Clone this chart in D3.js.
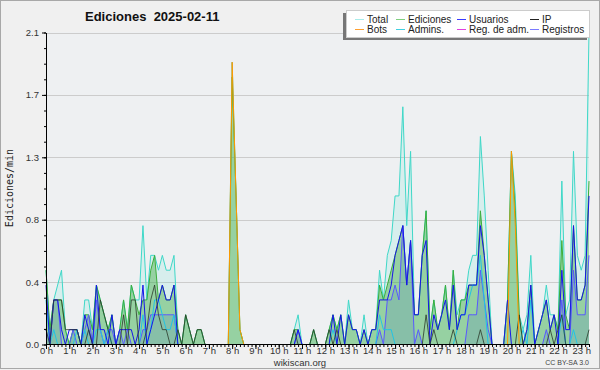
<!DOCTYPE html>
<html>
<head>
<meta charset="utf-8">
<script src="https://cdn.jsdelivr.net/npm/d3@7"></script>
<style>
body { margin: 0; background: #f0f0f0; }
svg { display: block; font-family: "Liberation Sans", Arial, sans-serif; }
</style>
</head>
<body>
<svg id="chart" width="600" height="370"></svg>
<script>
// 10-minute bins, values in edits per minute (6 bins per hour)
const total = [
  .5,.1,.3,.4,.5,.1,   0,.1,.1,0,.3,.3,   .1,.4,.3,.2,.1,.2,   0,.1,.3,.1,.4,.3,
  .3,.8,.3,.6,.6,.5,   .6,.5,.5,.6,.1,0,  .2,.1,0,.1,.1,0,     0,0,0,0,0,0,
  1.9,1.0,.1,0,0,0,    0,0,0,0,0,0,       0,0,0,0,.1,.2,       0,0,0,.1,0,0,
  0,.1,.2,.1,.2,0,     .3,.1,.1,0,.2,0,   .1,.1,.5,.3,.6,.7,   1.0,1.0,1.6,.8,1.3,.2,
  .2,.6,.9,.1,.3,.1,   .2,.4,.1,.5,.2,.3, .3,.5,.6,.6,1.4,1.0, .5,0,0,0,0,.3,
  1.3,1.0,.2,.1,.2,.6, 0,.1,.2,.4,.2,.2,  .1,1.1,.2,.3,1.3,.6, .5,.6,2.1
];
const ediciones = [
  .5,.1,.3,.3,.3,.1,   0,.1,.1,0,.2,.2,   .1,.4,.3,.2,.1,.2,   0,.1,.3,.1,.4,.3,
  .2,.3,.3,.5,.6,.3,   .4,.3,.3,.4,.1,0,  .2,.1,0,.1,.1,0,     0,0,0,0,0,0,
  1.8,1.0,.1,0,0,0,    0,0,0,0,0,0,       0,0,0,0,.1,.1,       0,0,0,.1,0,0,
  0,.1,.2,.1,.2,0,     .2,.1,.1,0,.1,0,   .1,.1,.4,.3,.4,.5,   .6,.7,.8,.4,.7,.2,
  .2,.6,.9,.1,.3,.1,   .2,.4,.1,.5,.1,.3, .3,.4,.4,.4,.9,.6,   .3,0,0,0,0,.3,
  1.3,.9,.2,0,.1,.4,   0,.1,.2,.3,.1,.2,  .1,.7,.2,.1,.8,.3,   .3,.4,1.1
];
const usuarios = [
  .4,0,.3,.3,.1,0,     .1,.1,.1,0,.2,.1,  0,.4,.1,.1,0,.2,     0,.1,.1,.1,.1,0,
  .1,.4,0,.1,.2,.3,    .4,.3,.3,.4,0,0,   0,0,0,0,0,0,         0,0,0,0,0,0,
  0,0,0,0,0,0,         0,0,0,0,0,0,       0,0,0,0,0,.1,        0,0,0,0,0,0,
  0,0,.2,0,.2,0,       .2,.1,.1,0,.1,0,   .1,.1,.3,.3,.3,.4,   .6,.7,.8,.4,.7,.2,
  .2,.6,.7,0,.2,.1,    .2,.3,.1,.4,.1,.2, .2,.4,.4,.4,.8,.6,   .3,0,0,0,0,.3,
  0,0,0,0,.1,.4,       0,.1,.2,.3,.1,.2,  0,.5,.1,.1,.8,.3,    .3,.4,1.0
];
const ip = [
  .1,0,.3,.3,.3,.1,    .1,.1,.1,0,0,.1,   0,0,.3,.2,.1,0,      0,0,.2,0,.3,.3,
  0,0,.1,.3,.4,.2,     .1,.1,0,0,.1,0,    .2,.1,0,.1,.1,0,     0,0,0,0,0,0,
  0,0,0,0,0,0,         0,0,0,0,0,0,       0,0,0,0,.1,0,        0,0,0,.1,0,0,
  0,.1,0,.1,0,0,       0,0,0,0,0,0,       0,0,0,0,0,0,         0,0,0,0,0,0,
  0,0,.2,0,.1,0,       0,0,0,.1,0,0,      0,0,0,0,.1,0,        0,0,0,0,0,0,
  0,0,.2,0,0,0,        0,0,0,0,.1,0,      .1,.2,0,0,0,0,       0,0,.1
];
const bots = [
  0,0,0,0,0,0,         0,0,0,0,0,0,       0,0,0,0,0,0,         0,0,0,0,0,0,
  0,0,0,0,0,0,         0,0,0,0,0,0,       0,0,0,0,0,0,         0,0,0,0,0,0,
  1.9,1.0,.1,0,0,0,    0,0,0,0,0,0,       0,0,0,0,0,0,         0,0,0,0,0,0,
  0,0,0,0,0,0,         0,0,0,0,0,0,       0,0,0,0,0,0,         0,0,0,0,0,0,
  0,0,0,0,0,0,         0,0,0,0,0,0,       0,0,0,0,0,0,         0,0,0,0,0,0,
  1.3,.8,0,0,0,0,      0,0,0,0,0,0,       0,0,0,0,0,0,         0,0,0
];
const admins = [
  .3,0,.1,0,0,0,       0,0,.1,0,.1,0,     0,.1,.1,0,.1,0,      0,0,0,0,0,0,
  0,.2,0,.1,.3,.3,     .2,.1,.1,.2,0,0,   0,0,0,0,0,0,         0,0,0,0,0,0,
  0,0,0,0,0,0,         0,0,0,0,0,0,       0,0,0,0,0,0,         0,0,0,0,0,0,
  0,0,.1,0,0,0,        0,0,0,0,0,0,       0,0,.2,.1,.1,.1,     0,0,0,0,0,0,
  0,0,0,0,0,0,         0,0,0,0,.1,.2,     .2,.3,.4,.4,.6,.3,   0,0,0,0,0,0,
  0,0,0,.1,0,.3,       0,0,0,0,0,0,       0,.2,0,0,.1,0,       0,0,0
];
const regAdm = total.map(() => 0);
const registros = [
  .1,0,.3,.3,0,0,      0,.1,0,0,.1,.2,    0,.3,.1,0,.1,.1,     0,.1,0,.1,0,0,
  0,.1,.1,.2,.2,.2,    .2,.2,.2,.2,0,0,   0,0,0,0,0,0,         0,0,0,0,0,0,
  0,0,0,0,0,0,         0,0,0,0,0,0,       0,0,0,0,0,.1,        0,0,0,0,0,0,
  0,0,0,0,0,0,         0,0,0,0,0,0,       0,0,.1,0,.3,.3,      .4,.3,.8,.4,.7,0,
  .1,0,0,0,0,0,        0,0,0,0,0,0,       0,.2,.2,.2,.5,.3,    .1,0,0,0,0,0,
  0,0,0,0,0,0,         0,0,0,.1,0,0,      0,.3,0,0,.5,.2,      .2,.2,.6
];

const seriesNames = ["Total", "Ediciones", "Usuarios", "IP", "Bots", "Admins.", "Reg. de adm.", "Registros"];
const seriesValues = [total, ediciones, usuarios, ip, bots, admins, regAdm, registros];
const seriesColors = ["#3fd8c8", "#3cae3c", "#1616e8", "#2a3a2a", "#ff9900", "#22c4e4", "#e040e0", "#5858ff"];
const legendColors = ["#a8ecea", "#80d080", "#3a3aff", "#222222", "#ffa030", "#40d0e0", "#e040e0", "#7a7aff"];

const hourLabels = d3.range(24).map(h => h + " h");
const yTickValues = [0, 0.42, 0.84, 1.26, 1.68, 2.1];
const yTickLabels = ["0.0", "0.4", "0.8", "1.3", "1.7", "2.1"];

const svg = d3.select("#chart");

// frame
svg.append("rect")
    .attr("x", 0.5).attr("y", 0.5)
    .attr("width", 599).attr("height", 368)
    .attr("fill", "#f0f0f0")
    .attr("stroke", "#a8a8a8");

const x = d3.scaleLinear().domain([0, total.length - 1]).range([46, 589]);
const y = d3.scaleLinear().domain([0, 2.1]).range([344.5, 32.5]);

// plot background
svg.append("rect")
    .attr("x", 46).attr("y", 32)
    .attr("width", 543).attr("height", 312)
    .attr("fill", "#eef0f2");

// gridlines
svg.append("g")
    .selectAll("line")
    .data(yTickValues.slice(1))
    .join("line")
    .attr("x1", 46).attr("x2", 589)
    .attr("y1", d => Math.round(y(d)) + 0.5)
    .attr("y2", d => Math.round(y(d)) + 0.5)
    .attr("stroke", "#cccccc");

const area = vals => d3.area()
    .x((d, i) => x(i))
    .y0(y(0))
    .y1(d => y(d))(vals);

const line = vals => d3.line()
    .x((d, i) => x(i))
    .y(d => y(d))(vals);

// filled series
svg.append("path").attr("d", area(total)).attr("fill", "rgba(64,224,208,0.13)");
svg.append("path").attr("d", area(ediciones)).attr("fill", "rgba(60,170,60,0.42)");
svg.append("path").attr("d", area(registros)).attr("fill", "rgba(60,100,200,0.16)");

// lines, drawn in this order
const drawOrder = [0, 1, 7, 5, 6, 2, 3, 4];
drawOrder.forEach(k => {
    svg.append("path")
        .attr("d", line(seriesValues[k]))
        .attr("fill", "none")
        .attr("stroke", seriesColors[k])
        .attr("stroke-width", 1)
        .attr("stroke-linejoin", "round")
        .attr("opacity", k === 3 ? 0.8 : 1);
});

// y axis
const yMinor = d3.range(0, 21).map(k => k * 0.105);
svg.append("g")
    .attr("transform", "translate(46,0)")
    .call(d3.axisLeft(y).tickValues(yMinor).tickSize(2).tickFormat("").tickSizeOuter(0))
    .call(g => g.select(".domain").remove());
svg.append("g")
    .attr("transform", "translate(46,0)")
    .call(d3.axisLeft(y).tickValues(yTickValues).tickSize(4).tickPadding(3)
        .tickFormat((d, i) => yTickLabels[i]).tickSizeOuter(0))
    .call(g => g.select(".domain").attr("stroke", "#000"))
    .call(g => g.selectAll("text").attr("font-size", 9.5).attr("fill", "#333")
        .attr("font-family", "Liberation Sans, Arial, sans-serif"));

// x axis
svg.append("g")
    .attr("transform", "translate(0,344)")
    .call(d3.axisBottom(x).tickValues(d3.range(0, total.length)).tickSize(3).tickFormat("").tickSizeOuter(0))
    .call(g => g.select(".domain").remove());
svg.append("g")
    .attr("transform", "translate(0,344)")
    .call(d3.axisBottom(x).tickValues(d3.range(0, 24).map(h => h * 6)).tickSize(5).tickPadding(0)
        .tickFormat((d, i) => hourLabels[i]).tickSizeOuter(0))
    .call(g => g.select(".domain").attr("stroke", "#000"))
    .call(g => g.selectAll("text").attr("y", 3).attr("font-size", 9.5).attr("fill", "#333")
        .attr("font-family", "Liberation Sans, Arial, sans-serif"));

// title and labels
svg.append("text")
    .attr("x", 85).attr("y", 21)
    .attr("font-size", 13).attr("font-weight", "bold")
    .attr("fill", "#111")
    .style("white-space", "pre")
    .text("Ediciones  2025-02-11");

svg.append("text")
    .attr("transform", "translate(13,188) rotate(-90)")
    .attr("text-anchor", "middle")
    .attr("font-family", "DejaVu Sans Mono, monospace")
    .attr("font-size", 10)
    .attr("fill", "#222")
    .text("Ediciones/min");

svg.append("text")
    .attr("x", 300).attr("y", 366)
    .attr("text-anchor", "middle")
    .attr("font-size", 9.5).attr("fill", "#333")
    .text("wikiscan.org");

svg.append("text")
    .attr("x", 589).attr("y", 365)
    .attr("text-anchor", "end")
    .attr("font-size", 7).attr("fill", "#444")
    .text("CC BY-SA 3.0");

// legend
const legend = svg.append("g");
legend.append("rect")
    .attr("x", 343).attr("y", 13).attr("width", 244).attr("height", 27)
    .attr("fill", "#777");
legend.append("rect")
    .attr("x", 346.5).attr("y", 10.5).attr("width", 243).attr("height", 27)
    .attr("fill", "#fff").attr("stroke", "#ccc");

const colX = [355, 396, 457, 530];
const rowY = [19.5, 29.5];
seriesNames.forEach((name, k) => {
    const cx = colX[k % 4];
    const cy = rowY[Math.floor(k / 4)];
    legend.append("line")
        .attr("x1", cx).attr("x2", cx + 9)
        .attr("y1", cy).attr("y2", cy)
        .attr("stroke", legendColors[k]);
    legend.append("text")
        .attr("x", cx + 12).attr("y", cy + 3.5)
        .attr("font-size", 10).attr("fill", "#222")
        .text(name);
});
</script>
</body>
</html>
